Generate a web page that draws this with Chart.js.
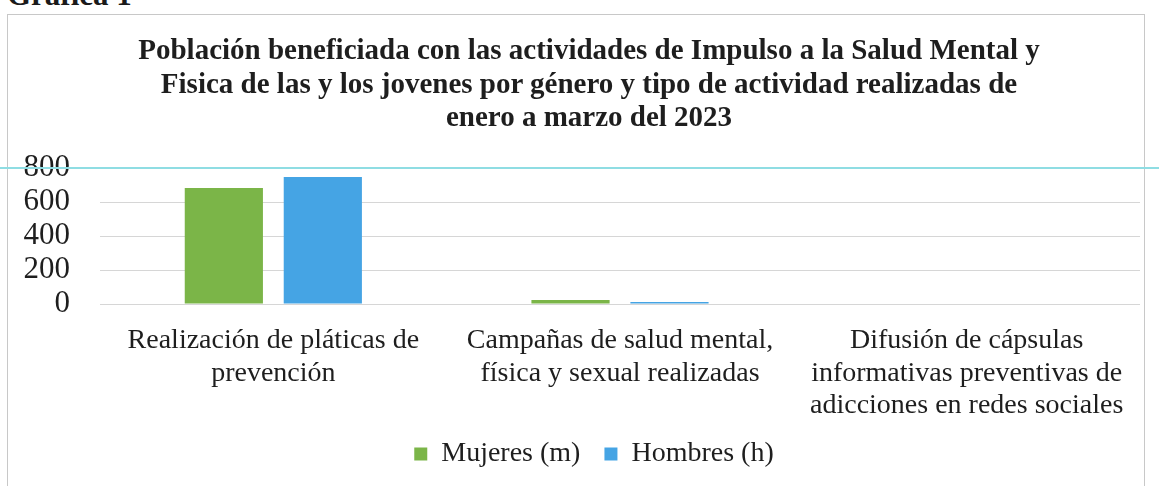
<!DOCTYPE html>
<html lang="es">
<head>
<meta charset="utf-8">
<title>Gráfica 1</title>
<script src="https://cdn.jsdelivr.net/npm/chart.js@4.4.0/dist/chart.umd.min.js"></script>
<style>
    html, body { margin: 0; padding: 0; background: #fff; }
    body { width: 1159px; height: 486px; position: relative; overflow: hidden; }
    .heading {
        position: absolute; left: 7px; top: -23px;
        font: bold 31px "Liberation Serif", "DejaVu Serif", serif; color: #1a1a1a;
    }
    .frame {
        position: absolute; left: 7px; top: 14px; width: 1138px; height: 490px;
        border: 1px solid #c8c8c8; box-sizing: border-box;
    }
    .title {
        position: absolute; left: 89px; top: 33px; width: 1000px;
        font: bold 29px/33.5px "Liberation Serif", "Times New Roman", serif;
        color: #1e1e1e; text-align: center; white-space: nowrap;
    }
    .title span { display: block; }
    .scanline {
        position: absolute; left: 0; top: 167px; width: 1159px; height: 2px;
        background: #8fdde3;
    }
    #chart { position: absolute; left: 0; top: 0; }
</style>
</head>
<body>
<div class="heading">Grafica 1</div>
<div class="frame"></div>
<canvas id="chart" width="1159" height="486"></canvas>
<div class="title" id="title"></div>
<div class="scanline"></div>
<script>
(function () {
    'use strict';

    // ═══ DATA ═══════════════════════════════════════════════════════════════
    const TITLE_LINES = [
        'Población beneficiada con las actividades de Impulso a la Salud Mental y',
        'Fisica de las y los jovenes por género y tipo de actividad realizadas de',
        'enero a marzo del 2023'
    ];
    const CATEGORIES = [
        ['Realización de pláticas de', 'prevención'],
        ['Campañas de salud mental,', 'física y sexual realizadas'],
        ['Difusión de cápsulas', 'informativas preventivas de', 'adicciones en redes sociales']
    ];
    const MUJERES = [683, 24, 0];
    const HOMBRES = [747, 12, 0];
    const Y_TICKS = [0, 200, 400, 600, 800];

    const SERIF = '"Liberation Serif", "Times New Roman", serif';
    const INK = '#1e1e1e';

    // title sits centred at x=589, a little right of the plot centre
    const titleEl = document.getElementById('title');
    titleEl.innerHTML = TITLE_LINES.map(t => `<span>${t}</span>`).join('');

    // legend in the original is centred under the page, not the canvas box
    const legendNudge = {
        id: 'legendNudge',
        afterLayout(chart) {
            const lg = chart.legend;
            if (!lg) return;
            lg.left += 24;
            lg.right += 24;
        }
    };

    const ctx = document.getElementById('chart');
    new Chart(ctx, {
        type: 'bar',
        data: {
            labels: CATEGORIES,
            datasets: [
                { label: 'Mujeres (m)', data: MUJERES, backgroundColor: '#7bb548' },
                { label: 'Hombres (h)', data: HOMBRES, backgroundColor: '#45a4e4' }
            ]
        },
        plugins: [legendNudge],
        options: {
            responsive: false,
            animation: false,
            layout: { padding: { left: 0, right: 19, top: 168, bottom: 8 } },
            datasets: { bar: { categoryPercentage: 0.571, barPercentage: 0.79 } },
            plugins: {
                title: { display: false },
                legend: {
                    position: 'bottom',
                    labels: {
                        color: INK,
                        font: { family: SERIF, size: 28 },
                        boxWidth: 13, boxHeight: 13,
                        padding: 24
                    }
                },
                tooltip: { enabled: false }
            },
            scales: {
                x: {
                    grid: { display: false, drawTicks: false },
                    border: { display: false },
                    ticks: {
                        color: INK,
                        font: { family: SERIF, size: 28, lineHeight: 1.15 },
                        maxRotation: 0, autoSkip: false, padding: 21
                    },
                    afterFit: (axis) => { axis.height = 112; }
                },
                y: {
                    min: 0, max: 800,
                    afterBuildTicks: (axis) => { axis.ticks = Y_TICKS.map(v => ({ value: v })); },
                    grid: { color: '#d6d6d6', lineWidth: 1, drawTicks: false },
                    border: { display: false },
                    ticks: {
                        color: INK,
                        font: { family: SERIF, size: 31 },
                        autoSkip: false,
                        padding: 30
                    },
                    afterFit: (axis) => { axis.width = 100; }
                }
            }
        }
    });
})();
</script>
</body>
</html>
